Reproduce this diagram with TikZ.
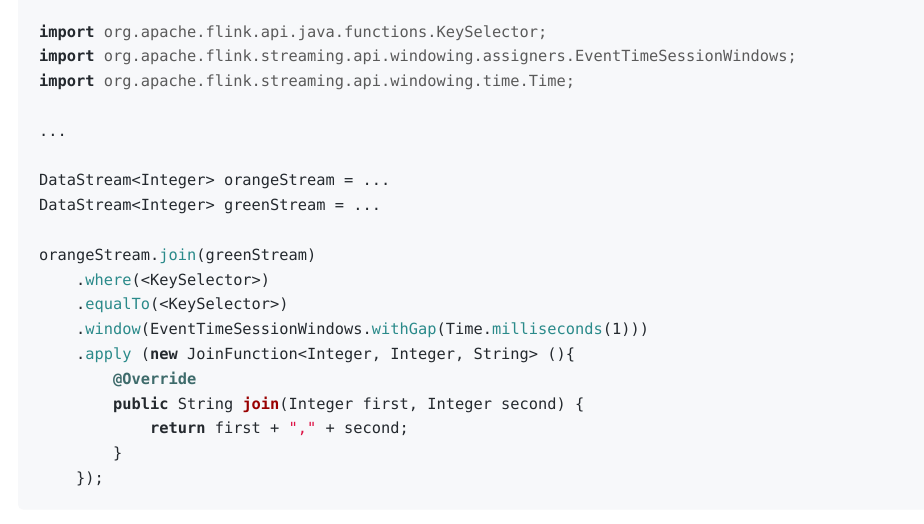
\documentclass[tikz,border=0pt]{standalone}
\usepackage{fontspec}
\newfontfamily\codefont{DejaVu Sans Mono}
\definecolor{bgc}{HTML}{F7F8FA}
\definecolor{txt}{HTML}{24292E}
\definecolor{pth}{HTML}{5A5A5A}
\definecolor{mth}{HTML}{2A8A8A}
\definecolor{ann}{HTML}{3E6B6B}
\definecolor{fnr}{HTML}{990000}
\definecolor{strc}{HTML}{DD1144}
\newcommand{\kw}[1]{{\bfseries #1}}
\newcommand{\mt}[1]{{\color{mth}#1}}
\begin{document}
\begin{tikzpicture}[x=1pt,y=-1pt,
  codeline/.style={anchor=base west,inner sep=0pt,font=\codefont\fontsize{15.35}{18}\selectfont,text=txt}]
\useasboundingbox (0,0) rectangle (924,523);
\fill[white] (0,0) rectangle (924,523);
\fill[bgc,rounded corners=5pt] (18,-10) rectangle (934,509.5);
\def\cw{9.24}
\node[codeline] (l1) at (39,37) {\kw{import} {\color{pth}org.apache.flink.api.java.functions.KeySelector;}};
\node[codeline] (l2) at (39,61.8) {\kw{import} {\color{pth}org.apache.flink.streaming.api.windowing.assigners.EventTimeSessionWindows;}};
\node[codeline] (l3) at (39,86.6) {\kw{import} {\color{pth}org.apache.flink.streaming.api.windowing.time.Time;}};
\node[codeline] (l5) at (39,136.2) {...};
\node[codeline] (l7) at (39,185.8) {DataStream<Integer> orangeStream = ...};
\node[codeline] (l8) at (39,210.6) {DataStream<Integer> greenStream = ...};
\node[codeline] (l10) at (39,260.2) {orangeStream.\mt{join}(greenStream)};
\node[codeline] (l11) at (39+4*\cw,285) {.\mt{where}(<KeySelector>)};
\node[codeline] (l12) at (39+4*\cw,309.8) {.\mt{equalTo}(<KeySelector>)};
\node[codeline] (l13) at (39+4*\cw,334.6) {.\mt{window}(EventTimeSessionWindows.\mt{withGap}(Time.\mt{milliseconds}(1)))};
\node[codeline] (l14) at (39+4*\cw,359.4) {.\mt{apply} (\kw{new} JoinFunction<Integer, Integer, String> ()\{};
\node[codeline] (l15) at (39+8*\cw,384.2) {{\color{ann}\bfseries @Override}};
\node[codeline] (l16) at (39+8*\cw,409) {\kw{public} String {\color{fnr}\bfseries join}(Integer first, Integer second) \{};
\node[codeline] (l17) at (39+12*\cw,433.8) {\kw{return} first + {\color{strc}","} + second;};
\node[codeline] (l18) at (39+8*\cw,458.6) {\}};
\node[codeline] (l19) at (39+4*\cw,483.4) {\});};
\end{tikzpicture}
\end{document}
